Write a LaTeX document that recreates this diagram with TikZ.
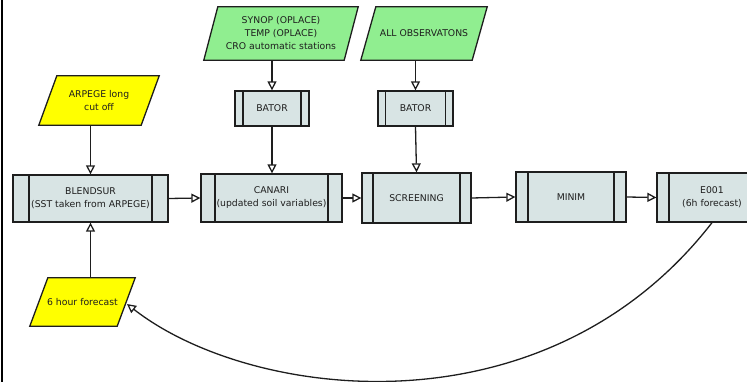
\documentclass[tikz,border=0pt]{standalone}
\usepackage{fontspec}
\setmainfont{DejaVu Sans}
\usetikzlibrary{arrows.meta}
\pgfdeclarelayer{background}
\pgfsetlayers{background,main}
\definecolor{boxfill}{HTML}{D8E4E4}
\definecolor{obsgreen}{HTML}{90EE90}
\definecolor{inyellow}{HTML}{FFFF00}
\definecolor{edgecol}{HTML}{1E1E1E}
\tikzset{
  txt/.style={font=\fontsize{9.3}{13}\selectfont, text=edgecol, align=center},
  procbox/.style={rectangle, draw=edgecol, line width=1.3pt, fill=boxfill, txt, inner sep=0pt,
    path picture={\draw[edgecol, line width=1.3pt]
      ([xshift=#1]path picture bounding box.north west) -- ([xshift=#1]path picture bounding box.south west)
      ([xshift=-#1]path picture bounding box.north east) -- ([xshift=-#1]path picture bounding box.south east);}},
  parabox/.style={rectangle, txt, inner sep=0pt},
  paraedge/.style={draw=edgecol, line width=1.3pt, line join=miter},
  flow/.style={draw=edgecol, line width=1.3pt, -{Triangle[open,length=9pt,width=9pt]}},
}
\newcommand{\drawpara}[3]{%
  \begin{pgfonlayer}{background}
  \path[paraedge, fill=#3] ([xshift=#2]#1.north west) -- (#1.north east) -- ([xshift=-#2]#1.south east) -- (#1.south west) -- cycle;
  \end{pgfonlayer}}
\begin{document}
\begin{tikzpicture}[x=1pt,y=-1pt]
\useasboundingbox (0,0) rectangle (747,382);
\clip (0,0) rectangle (747,382);
\draw[black, line width=2pt] (2,0) -- (2,382);
% inputs
\node[parabox, minimum width=120pt, minimum height=49pt] (arp) at (99,100.5) {ARPEGE long\\ cut off};
\drawpara{arp}{18pt}{inyellow}
\node[parabox, minimum width=154pt, minimum height=53pt] (synop) at (281,33.5) {SYNOP (OPLACE)\\TEMP (OPLACE)\\CRO automatic stations};
\drawpara{synop}{14pt}{obsgreen}
\node[parabox, minimum width=126pt, minimum height=53pt] (allobs) at (424,33.5) {ALL OBSERVATONS};
\drawpara{allobs}{15pt}{obsgreen}
\node[parabox, minimum width=105pt, minimum height=48pt] (fc) at (82.5,302) {6 hour forecast};
\drawpara{fc}{18pt}{inyellow}
\coordinate (fcin) at (127,304);
% processes
\node[procbox=8pt, minimum width=74pt, minimum height=35pt] (bator1) at (272,108.5) {BATOR};
\node[procbox=7.5pt, minimum width=75pt, minimum height=35pt] (bator2) at (415.5,108.5) {BATOR};
\node[procbox=16pt, minimum width=155pt, minimum height=47pt] (blend) at (90.5,198.5) {BLENDSUR\\(SST taken from ARPEGE)};
\node[procbox=14pt, minimum width=141pt, minimum height=48pt] (canari) at (271.5,198) {CANARI\\(updated soil variables)};
\node[procbox=11pt, minimum width=109pt, minimum height=50pt] (screen) at (416.5,198) {SCREENING};
\node[procbox=12pt, minimum width=110pt, minimum height=50pt] (minim) at (571,197) {MINIM};
\node[procbox=12pt, minimum width=110pt, minimum height=49pt] (e001) at (712,197.5) {E001\\(6h forecast)};
% connectors
\draw[flow] (arp.south -| blend.north) -- (blend.north);
\draw[flow] (fc.north -| blend.south) -- (blend.south);
\draw[flow] (synop.south -| bator1.north) -- (bator1.north);
\draw[flow] (bator1.south) -- (canari.north -| bator1.south);
\draw[flow] (allobs.south -| bator2.north) -- (bator2.north);
\draw[flow] (bator2.south) -- (screen.north);
\draw[flow] (blend.east) -- (canari.west);
\draw[flow] (canari.east) -- (screen.west);
\draw[flow] (screen.east) -- (minim.west);
\draw[flow] (minim.east) -- (e001.west);
\draw[flow] (e001.south) .. controls (545,438) and (250,400) .. (fcin);
\end{tikzpicture}
\end{document}
